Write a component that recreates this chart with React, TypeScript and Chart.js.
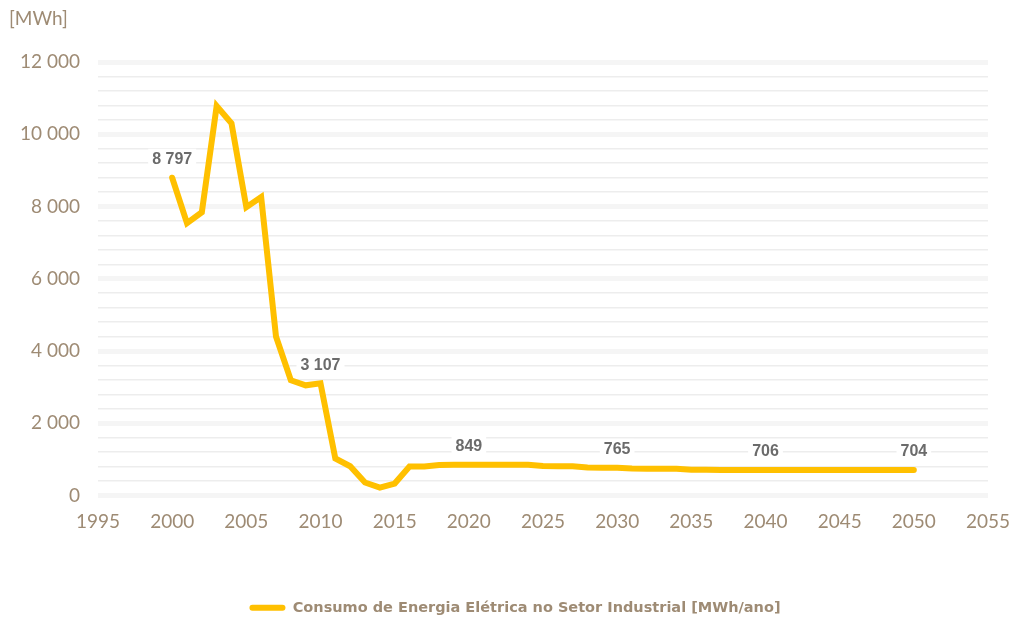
import React, { useEffect, useRef } from 'react';
import { Chart, registerables } from 'chart.js';

Chart.register(...registerables);

const years = [
  2000, 2001, 2002, 2003, 2004, 2005, 2006, 2007, 2008, 2009,
  2010, 2011, 2012, 2013, 2014, 2015, 2016, 2017, 2018, 2019,
  2020, 2021, 2022, 2023, 2024, 2025, 2026, 2027, 2028, 2029,
  2030, 2031, 2032, 2033, 2034, 2035, 2036, 2037, 2038, 2039,
  2040, 2041, 2042, 2043, 2044, 2045, 2046, 2047, 2048, 2049, 2050,
];
const consumption = [
  8797, 7540, 7840, 10780, 10300, 7980, 8260, 4400, 3190, 3050,
  3107, 1025, 810, 360, 220, 330, 800, 805, 845, 849,
  849, 849, 849, 848, 848, 815, 812, 810, 775, 770,
  765, 745, 742, 740, 738, 712, 710, 709, 708, 707,
  706, 706, 705, 705, 705, 705, 705, 704, 704, 704, 704,
];
const labeledYears = [2000, 2010, 2020, 2030, 2040, 2050];
const seriesLabel = 'Consumo de Energia Elétrica no Setor Industrial [MWh/ano]';
const unitLabel = '[MWh]';
const xMin = 1995;
const xMax = 2055;
const xStep = 5;
const yMax = 12000;
const yMinorStep = 400;
const yMajorStep = 2000;

const BROWN = '#9E8B74';
const YELLOW = '#FFC000';
const FONT = 'Lato, "Open Sans", sans-serif';

const fmt = (n: number) => String(n).replace(/\B(?=(\d{3})+(?!\d))/g, ' ');

const labelPlugin = {
  id: 'pointLabels',
  afterDatasetsDraw(chart: any) {
    const ctx = chart.ctx;
    const meta = chart.getDatasetMeta(0);
    ctx.save();
    ctx.font = 'bold 16px "Liberation Sans", Arial, sans-serif';
    ctx.textAlign = 'center';
    ctx.textBaseline = 'middle';
    years.forEach((yr, i) => {
      if (!labeledYears.includes(yr)) return;
      const el = meta.data[i];
      const text = fmt(consumption[i]);
      const w = ctx.measureText(text).width;
      const cx = el.x;
      const cy = el.y - 19;
      ctx.fillStyle = '#ffffff';
      ctx.fillRect(cx - w / 2 - 4, cy - 10, w + 8, 20);
      ctx.fillStyle = '#6B6B6B';
      ctx.fillText(text, cx, cy + 1);
    });
    ctx.restore();
  },
};

const unitPlugin = {
  id: 'unitTitle',
  afterDraw(chart: any) {
    const ctx = chart.ctx;
    ctx.save();
    ctx.font = '19px ' + FONT;
    ctx.fillStyle = BROWN;
    ctx.textAlign = 'left';
    ctx.textBaseline = 'middle';
    ctx.fillText(unitLabel, 9, 19);
    ctx.restore();
  },
};

const legendShiftPlugin = {
  id: 'legendShift',
  afterLayout(chart: any) {
    if (chart.legend) {
      chart.legend.left = 14;
      chart.legend.right = chart.width;
    }
  },
};

export default function App() {
  const ref = useRef<HTMLCanvasElement>(null);

  useEffect(() => {
    if (!ref.current) return;
    const chart = new Chart(ref.current, {
      type: 'line',
      data: {
        datasets: [
          {
            label: seriesLabel,
            data: years.map((y, i) => ({ x: y, y: consumption[i] })),
            borderColor: YELLOW,
            backgroundColor: YELLOW,
            borderWidth: 6,
            pointRadius: 0,
            pointHoverRadius: 0,
            tension: 0,
            borderCapStyle: 'round',
            fill: false,
          },
        ],
      },
      options: {
        responsive: false,
        animation: false,
        layout: { padding: { top: 62, right: 28, left: 0, bottom: -2 } },
        scales: {
          x: {
            type: 'linear',
            min: xMin,
            max: xMax,
            afterFit: (scale: any) => {
              scale.height = 95;
              scale.paddingLeft = 0;
              scale.paddingRight = 0;
            },
            ticks: {
              stepSize: xStep,
              autoSkip: false,
              color: BROWN,
              font: { family: FONT, size: 19 },
              padding: 15,
              maxRotation: 0,
              callback: (v: any) => String(v),
            },
            grid: { display: false, drawTicks: false },
            border: { display: false },
          },
          y: {
            min: 0,
            max: yMax,
            afterFit: (scale: any) => {
              scale.width = 98;
            },
            ticks: {
              stepSize: yMinorStep,
              autoSkip: false,
              color: BROWN,
              font: { family: FONT, size: 19 },
              padding: 18,
              callback: (v: any) => (Number(v) % yMajorStep === 0 ? fmt(Number(v)) : ''),
            },
            grid: {
              drawTicks: false,
              color: (c: any) =>
                c.tick && c.tick.value % yMajorStep === 0 ? '#F5F5F5' : '#EDEDED',
              lineWidth: (c: any) => (c.tick && c.tick.value % yMajorStep === 0 ? 5 : 1.5),
            },
            border: { display: false },
          },
        },
        plugins: {
          tooltip: { enabled: false },
          legend: {
            position: 'bottom',
            labels: {
              boxWidth: 36,
              boxHeight: 6,
              useBorderRadius: true,
              borderRadius: 3,
              padding: 10,
              color: BROWN,
              font: { family: '"DejaVu Sans", sans-serif', size: 14.5, weight: 'bold' },
              generateLabels: () => [
                {
                  text: seriesLabel,
                  fillStyle: YELLOW,
                  strokeStyle: YELLOW,
                  lineWidth: 0,
                  hidden: false,
                  datasetIndex: 0,
                  borderRadius: 3,
                  fontColor: BROWN,
                } as any,
              ],
            },
          },
        },
      } as any,
      plugins: [labelPlugin, unitPlugin, legendShiftPlugin],
    });
    return () => chart.destroy();
  }, []);

  return (
    <div style={{ position: 'absolute', left: 0, top: 0, width: 1016, height: 623, background: '#fff' }}>
      <canvas ref={ref} width={1016} height={623} />
    </div>
  );
}
